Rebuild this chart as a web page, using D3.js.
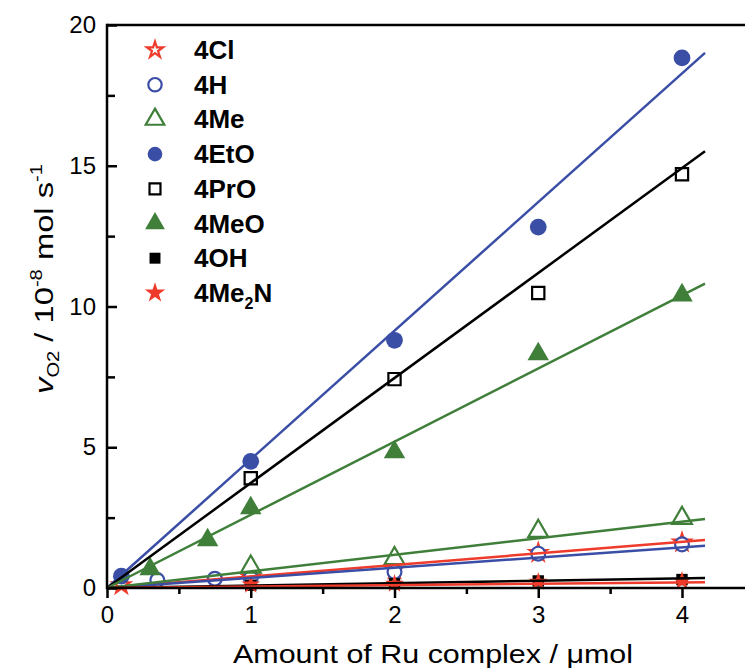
<!DOCTYPE html>
<html><head><meta charset="utf-8">
<script src="https://cdn.jsdelivr.net/npm/d3@7"></script>
<style>body{margin:0;background:#fff}svg{display:block}</style>
</head><body>
<script>
// ---- data ----
const seriesNames = ["4Cl","4H","4Me","4EtO","4PrO","4MeO","4OH","4Me2N"];
const d4Cl   = [[0.1,0.1],[1,0.38],[2,0.65],[3,1.25],[4,1.62]];
const d4H    = [[0.35,0.28],[0.75,0.33],[1,0.35],[2,0.57],[3,1.22],[4,1.55]];
const d4Me   = [[1,0.75],[2,1.05],[3,2.02],[4,2.48]];
const d4EtO  = [[0.1,0.42],[1,4.5],[2,8.8],[3,12.82],[4,18.83]];
const d4PrO  = [[1,3.9],[2,7.42],[3,10.48],[4,14.7]];
const d4MeO  = [[0.3,0.67],[0.7,1.7],[1,2.84],[2,4.83],[3,8.31],[4,10.4]];
const d4OH   = [[1,0.1],[2,0.15],[3,0.25],[4,0.3]];
const d4Me2N = [[1,0.12],[2,0.15],[3,0.22],[4,0.25]];
// fitted slopes (line through origin)
const fitSlopes = [0.41,0.36,0.59,4.57,3.73,2.6,0.085,0.05];
const fitEnd = 4.16;
const xTicks = [0,1,2,3,4];
const yTicks = [0,5,10,15,20];

const W=745,H=669;
const blue="#3a4ea6", green="#3f7f3a", red="#ee3b2b", black="#000";
const styles = [
  {color:red, sym:d3.symbolStar, fill:false, size:90},
  {color:blue, sym:d3.symbolCircle, fill:false, size:150},
  {color:green, sym:d3.symbolTriangle, fill:false, size:170},
  {color:blue, sym:d3.symbolCircle, fill:true, size:220},
  {color:black, sym:d3.symbolSquare, fill:false, size:150},
  {color:green, sym:d3.symbolTriangle, fill:true, size:200},
  {color:black, sym:d3.symbolSquare, fill:true, size:130},
  {color:red, sym:d3.symbolStar, fill:true, size:110}
];
const legendSizes=[80,140,150,170,120,170,120,130];
const allData=[d4Cl,d4H,d4Me,d4EtO,d4PrO,d4MeO,d4OH,d4Me2N];

const svg=d3.select("body").append("svg").attr("width",W).attr("height",H);
const x=d3.scaleLinear().domain([0,4.5]).range([107,107+143.75*4.5]);
const y=d3.scaleLinear().domain([0,20]).range([588,25]);
const font="Liberation Sans, Arial, sans-serif";

// markers
allData.forEach((d,i)=>{
  const s=styles[i];
  svg.append("g").selectAll("path").data(d).join("path")
    .attr("transform",p=>`translate(${x(p[0])},${y(p[1])})`)
    .attr("d",d3.symbol().type(s.sym).size(s.size))
    .attr("fill",s.fill?s.color:"#fff")
    .attr("stroke",s.color).attr("stroke-width",s.fill?0:2.2);
});
// fit lines
fitSlopes.forEach((k,i)=>{
  svg.append("line").attr("x1",x(0)).attr("y1",y(0)).attr("x2",x(fitEnd)).attr("y2",y(k*fitEnd))
    .attr("stroke",styles[i].color).attr("stroke-width",2.5);
});

// axes
const xAxis=svg.append("g").attr("transform",`translate(0,${y(0)})`)
  .call(d3.axisBottom(x).tickValues(xTicks).tickSize(10).tickPadding(8).tickFormat(d3.format("d")));
const xMinor=svg.append("g").attr("transform",`translate(0,${y(0)})`)
  .call(d3.axisBottom(x).tickValues(d3.range(0.5,4.6,1)).tickSize(6).tickFormat(""));
const yAxis=svg.append("g").attr("transform",`translate(${x(0)},0)`)
  .call(d3.axisRight(y).tickValues(yTicks).tickSize(10).tickFormat(""));
const yMinor=svg.append("g").attr("transform",`translate(${x(0)},0)`)
  .call(d3.axisRight(y).tickValues(d3.range(2.5,20,5)).tickSize(8).tickFormat(""));
[xAxis,xMinor,yAxis,yMinor].forEach(g=>{
  g.select(".domain").remove();
  g.selectAll(".tick line").attr("stroke","#000").attr("stroke-width",2.5);
});
xAxis.selectAll("text").attr("font-family",font).attr("font-size",24).attr("fill","#000");
// y labels
svg.append("g").selectAll("text").data(yTicks).join("text")
  .attr("x",96).attr("y",d=>y(d)+8).attr("text-anchor","end")
  .attr("font-family",font).attr("font-size",24).text(d=>d);
// frame lines
svg.append("line").attr("x1",x(0)).attr("x2",W).attr("y1",y(0)).attr("y2",y(0)).attr("stroke","#000").attr("stroke-width",2.5);
svg.append("line").attr("x1",x(0)).attr("x2",W).attr("y1",y(20)).attr("y2",y(20)).attr("stroke","#000").attr("stroke-width",2.5);
svg.append("line").attr("x1",x(0)).attr("x2",x(0)).attr("y1",y(0)+1.25).attr("y2",y(20)-1.25).attr("stroke","#000").attr("stroke-width",2.5);

// axis titles
svg.append("text").attr("x",433).attr("y",663).attr("text-anchor","middle")
  .attr("font-family",font).attr("font-size",25)
  .attr("textLength",400).attr("lengthAdjust","spacingAndGlyphs")
  .text("Amount of Ru complex / μmol");
const yt=svg.append("text").attr("transform","translate(53,279) rotate(-90)").attr("text-anchor","middle")
  .attr("font-family",font).attr("font-size",26)
  .attr("textLength",230).attr("lengthAdjust","spacingAndGlyphs");
yt.append("tspan").attr("font-style","italic").text("v");
yt.append("tspan").attr("font-size",16).attr("dy",6).text("O2");
yt.append("tspan").attr("dy",-6).text(" / 10");
yt.append("tspan").attr("font-size",16).attr("dy",-11).text("-8");
yt.append("tspan").attr("dy",11).text(" mol s");
yt.append("tspan").attr("font-size",16).attr("dy",-11).text("-1");

// legend
const lg=svg.append("g");
seriesNames.forEach((n,i)=>{
  const s=styles[i], yy=50+i*34.7;
  lg.append("path").attr("transform",`translate(155,${yy})`)
    .attr("d",d3.symbol().type(s.sym).size(legendSizes[i]))
    .attr("fill",s.fill?s.color:"none").attr("stroke",s.color).attr("stroke-width",s.fill?0:2.2);
  const t=lg.append("text").attr("x",194).attr("y",yy+9).attr("font-family",font)
    .attr("font-weight","bold").attr("font-size",26);
  if(n==="4Me2N"){
    t.append("tspan").text("4Me");
    t.append("tspan").attr("font-size",16).attr("dy",7).text("2");
    t.append("tspan").attr("dy",-7).text("N");
  } else t.text(n);
});
</script>
</body></html>
